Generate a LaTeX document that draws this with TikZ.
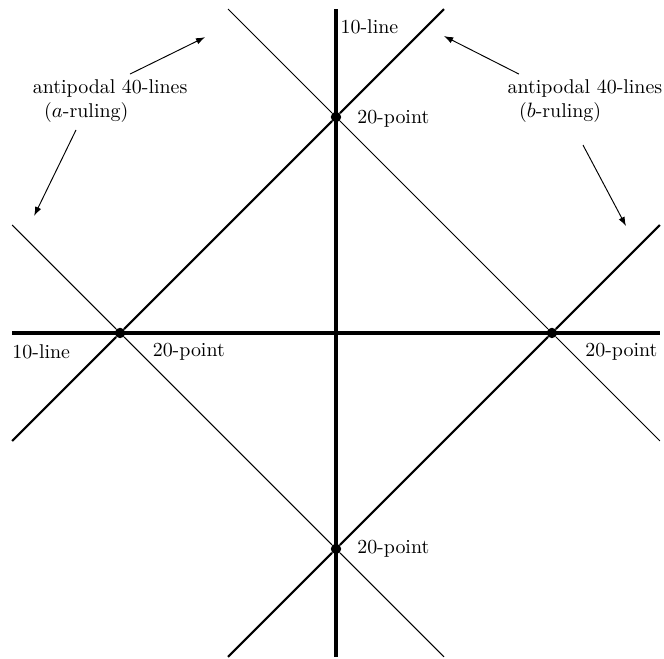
\documentclass[tikz,border=0pt]{standalone}
\usepackage{tikz}
\usetikzlibrary{arrows.meta,positioning,calc}
\tikzset{
  tengely/.style={line width=1.8pt},
  vastag/.style={line width=1.1pt},
  vekony/.style={line width=0.5pt},
  pont/.style={circle,fill,inner sep=0pt,minimum size=5.5pt},
  nyil/.style={-{Latex[length=1.7mm,width=1.2mm]},line width=0.5pt},
  cimke/.style={inner sep=0pt,anchor=west},
  szoveg/.style={align=left,inner sep=0pt},
}
\begin{document}
\begin{tikzpicture}[x=4cm,y=4cm,font=\fontsize{10.5}{13}\selectfont]
  \useasboundingbox (-1.556,-1.509) rectangle (1.519,1.542);
  % pontok
  \node[pont] (N) at (0,1) {};
  \node[pont] (S) at (0,-1) {};
  \node[pont] (W) at (-1,0) {};
  \node[pont] (E) at (1,0) {};
  % vegpontok
  \coordinate (xa) at (-1.5,0);   \coordinate (xb) at (1.5,0);
  \coordinate (ya) at (0,-1.5);   \coordinate (yb) at (0,1.5);
  \coordinate (a1) at (-1.5,-0.5); \coordinate (a2) at (0.5,1.5);
  \coordinate (a3) at (-0.5,-1.5); \coordinate (a4) at (1.5,0.5);
  \coordinate (b1) at (-0.5,1.5);  \coordinate (b2) at (1.5,-0.5);
  \coordinate (b3) at (-1.5,0.5);  \coordinate (b4) at (0.5,-1.5);
  % 10-vonalak
  \draw[tengely] (xa) -- (xb);
  \draw[tengely] (ya) -- (yb);
  % a- es b-vonalak
  \draw[vastag] (a1) -- (W) -- (N) -- (a2);
  \draw[vastag] (a3) -- (S) -- (E) -- (a4);
  \draw[vekony] (b1) -- (N) -- (E) -- (b2);
  \draw[vekony] (b3) -- (W) -- (S) -- (b4);
  % cimkek
  \node[cimke] (t1) at (0.02,1.42) {10-line};
  \node[cimke] (t2) at (-1.5,-0.085) {10-line};
  \node[cimke] (p1) at (0.097,0.993) {20-point};
  \node[cimke] (p2) at (-0.85,-0.085) {20-point};
  \node[cimke] (p3) at (1.153,-0.085) {20-point};
  \node[cimke] (p4) at (0.097,-1) {20-point};
  \node[szoveg] (ra) at (-1.046,1.074) {antipodal 40-lines\\\hspace{6pt}($a$-ruling)};
  \node[szoveg] (rb) at (1.153,1.074) {antipodal 40-lines\\\hspace{6pt}($b$-ruling)};
  % nyilak
  \coordinate (ca1) at (-0.606,1.370); \coordinate (ca2) at (-1.398,0.542);
  \coordinate (cb1) at (0.5,1.375);    \coordinate (cb2) at (1.343,0.495);
  \draw[nyil] (-0.954,1.199) -- (ca1);
  \draw[nyil] (-1.204,0.940) -- (ca2);
  \draw[nyil] (0.847,1.199) -- (cb1);
  \draw[nyil] (1.144,0.87) -- (cb2);
\end{tikzpicture}
\end{document}
